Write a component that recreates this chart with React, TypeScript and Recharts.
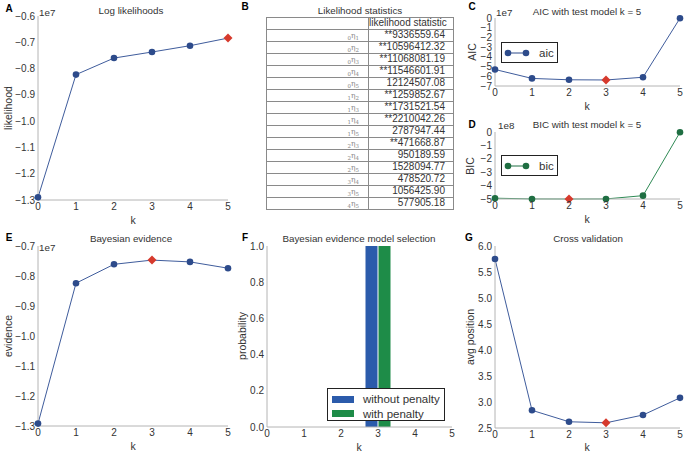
import React from 'react';
import { LineChart, Line, XAxis, YAxis, Legend, ComposedChart, Bar } from 'recharts';

// values (A, C, E in units of 1e7, D in units of 1e8)
const kValues = [0, 1, 2, 3, 4, 5];
const logLikelihood = [-1.29, -0.823, -0.76, -0.737, -0.713, -0.684];
const aicValues = [-5.3, -6.22, -6.36, -6.38, -6.1, -0.02];
const bicValues = [-4.94, -4.995, -5.0, -4.995, -4.75, -0.02];
const evidenceValues = [-1.292, -0.824, -0.761, -0.747, -0.753, -0.774];
const withoutPenalty = [0, 0, 0, 1, 0, 0];
const withPenalty = [0, 0, 0, 1, 0, 0];
const crossValidation = [5.75, 2.84, 2.62, 2.6, 2.75, 3.08];

const bestLikelihood = 5;
const bestAic = 3;
const bestBic = 2;
const bestEvidence = 3;
const bestCv = 3;

const likelihoodTicks = [-1.3, -1.2, -1.1, -1.0, -0.9, -0.8, -0.7, -0.6];
const aicTicks = [-7, -6, -5, -4, -3, -2, -1, 0];
const bicTicks = [-5, -4, -3, -2, -1, 0];
const evidenceTicks = [-1.3, -1.2, -1.1, -1.0, -0.9, -0.8, -0.7];
const probTicks = [0, 0.2, 0.4, 0.6, 0.8, 1.0];
const cvTicks = [2.5, 3.0, 3.5, 4.0, 4.5, 5.0, 5.5, 6.0];

const statFrom = ['0', '0', '0', '0', '0', '1', '1', '1', '1', '2', '2', '2', '3', '3', '4'];
const statTo = ['1', '2', '3', '4', '5', '2', '3', '4', '5', '3', '4', '5', '4', '5', '5'];
const statValues = [
  '**9336559.64', '**10596412.32', '**11068081.19', '**11546601.91', '12124507.08',
  '**1259852.67', '**1731521.54', '**2210042.26', '2787947.44', '**471668.87',
  '950189.59', '1528094.77', '478520.72', '1056425.90', '577905.18',
];

const FONT = '"Liberation Sans", Arial, sans-serif';
const TEXT = '#333';
const SPINE = '#b4b4b4';
const BLUE_LINE = '#3f5c9c';
const BLUE_DOT = '#2d4b8b';
const GREEN_LINE = '#2f8a55';
const GREEN_DOT = '#1f6e42';
const RED = '#d63a2d';

const YAW = 38;
const MT = 8;
const MR = 8;
const XAH = 26;

const fmt1 = (v: number) => v.toFixed(1).replace('-', '\u2212');
const fmt0 = (v: number) => String(Math.round(v)).replace('-', '\u2212');

const makeDot = (best: number, color: string) => (props: any) => {
  const { cx, cy, index } = props;
  if (cx == null || cy == null) return <g key={`d-${index}`} />;
  if (index === best) {
    const s = 4.5;
    return (
      <polygon
        key={`d-${index}`}
        points={`${cx},${cy - s} ${cx + s},${cy} ${cx},${cy + s} ${cx - s},${cy}`}
        fill={RED}
      />
    );
  }
  return <circle key={`d-${index}`} cx={cx} cy={cy} r={3.3} fill={color} />;
};

const Txt = ({ x, y, children, size = 9.8, bold = false, rotate = false, anchor = 'center' }: any) => (
  <div
    style={{
      position: 'absolute',
      left: x,
      top: y,
      transform: `translate(${anchor === 'left' ? '0' : '-50%'}, -50%)${rotate ? ' rotate(-90deg)' : ''}`,
      fontSize: size,
      fontWeight: bold ? 'bold' : 'normal',
      color: bold ? '#000' : TEXT,
      whiteSpace: 'nowrap',
      fontFamily: FONT,
      lineHeight: 1,
    }}
  >
    {children}
  </div>
);

const LineLegend = ({ color, name }: any) => (
  <div
    style={{
      width: 55,
      height: 19,
      border: '1px solid #222',
      background: '#fff',
      display: 'flex',
      alignItems: 'center',
      fontFamily: FONT,
      fontSize: 11.5,
      color: TEXT,
    }}
  >
    <svg width={32} height={19}>
      <line x1={6} x2={24} y1={10} y2={10} stroke={color} strokeWidth={1} />
      <circle cx={6} cy={10} r={3.3} fill={color} />
      <circle cx={24} cy={10} r={3.3} fill={color} />
    </svg>
    <span style={{ marginLeft: 5 }}>{name}</span>
  </div>
);

const BarLegend = () => (
  <div
    style={{
      width: 118,
      height: 33,
      border: '1px solid #222',
      background: '#fff',
      fontFamily: FONT,
      fontSize: 11.5,
      color: TEXT,
      boxSizing: 'border-box',
      paddingTop: 3,
    }}
  >
    {[
      { c: '#2b5bab', t: 'without penalty' },
      { c: '#1e8c48', t: 'with penalty' },
    ].map(r => (
      <div key={r.t} style={{ display: 'flex', alignItems: 'center', height: 14.5 }}>
        <span style={{ display: 'inline-block', width: 22, height: 7, background: r.c, marginLeft: 4 }} />
        <span style={{ marginLeft: 9 }}>{r.t}</span>
      </div>
    ))}
  </div>
);

interface PanelProps {
  x0: number;
  x1: number;
  y0: number;
  y1: number;
  values: number[];
  ticks: number[];
  best: number;
  fmt: (v: number) => string;
  lineColor: string;
  dotColor: string;
  legend?: { name: string; left: number; top: number };
}

const tickStyle = { fill: TEXT, fontSize: 10, fontFamily: FONT };

const LinePanel: React.FC<PanelProps> = ({ x0, x1, y0, y1, values, ticks, best, fmt, lineColor, dotColor, legend }) => {
  const data = kValues.map((k, i) => ({ k, v: values[i] }));
  const left = x0 - YAW;
  const top = y0 - MT;
  return (
    <div style={{ position: 'absolute', left, top }}>
      <LineChart
        width={x1 - x0 + YAW + MR}
        height={y1 - y0 + MT + XAH}
        data={data}
        margin={{ top: MT, right: MR, left: 0, bottom: 0 }}
      >
        <XAxis
          type="number"
          dataKey="k"
          domain={[0, 5]}
          ticks={kValues}
          tickLine={false}
          tickSize={0}
          tickMargin={3}
          height={XAH}
          axisLine={{ stroke: SPINE }}
          tick={tickStyle}
        />
        <YAxis
          type="number"
          domain={[ticks[0], ticks[ticks.length - 1]]}
          ticks={ticks}
          interval={0}
          width={YAW}
          tickLine={false}
          tickSize={0}
          tickMargin={3}
          axisLine={{ stroke: SPINE }}
          tickFormatter={fmt}
          tick={tickStyle}
        />
        {legend && (
          <Legend
            layout="vertical"
            align="center"
            verticalAlign="middle"
            wrapperStyle={{ left: legend.left - left, top: legend.top - top, width: 'auto', height: 'auto' }}
            content={() => <LineLegend color={dotColor} name={legend.name} />}
          />
        )}
        <Line
          type="linear"
          dataKey="v"
          stroke={lineColor}
          strokeWidth={1}
          dot={makeDot(best, dotColor)}
          activeDot={false}
          isAnimationActive={false}
          legendType="none"
        />
      </LineChart>
    </div>
  );
};

const BarPanel = () => {
  const x0 = 267, x1 = 452, y0 = 246, y1 = 427;
  const data = kValues.map((k, i) => ({ k, a: withoutPenalty[i], b: withPenalty[i] }));
  const left = x0 - YAW;
  const top = y0 - MT;
  return (
    <div style={{ position: 'absolute', left, top }}>
      <ComposedChart
        width={x1 - x0 + YAW + MR}
        height={y1 - y0 + MT + XAH}
        data={data}
        margin={{ top: MT, right: MR, left: 0, bottom: 0 }}
        barGap={1}
      >
        <XAxis
          type="number"
          dataKey="k"
          domain={[0, 5]}
          ticks={kValues}
          tickLine={false}
          tickSize={0}
          tickMargin={3}
          height={XAH}
          axisLine={{ stroke: SPINE }}
          tick={tickStyle}
        />
        <YAxis
          type="number"
          domain={[0, 1]}
          ticks={probTicks}
          interval={0}
          width={YAW}
          tickLine={false}
          tickSize={0}
          tickMargin={3}
          axisLine={{ stroke: SPINE }}
          tickFormatter={fmt1}
          tick={tickStyle}
        />
        <Legend
          layout="vertical"
          align="center"
          verticalAlign="middle"
          wrapperStyle={{ left: 327 - left, top: 388 - top, width: 'auto', height: 'auto' }}
          content={() => <BarLegend />}
        />
        <Bar dataKey="a" fill="#2b5bab" barSize={12} isAnimationActive={false} />
        <Bar dataKey="b" fill="#1e8c48" barSize={12} isAnimationActive={false} />
      </ComposedChart>
    </div>
  );
};

const StatsTable = () => {
  const cell: React.CSSProperties = {
    border: '1px solid #8a8a8a',
    height: 10.5,
    padding: '0 8px 0 0',
    textAlign: 'right',
    lineHeight: '10px',
    whiteSpace: 'nowrap',
    overflow: 'hidden',
  };
  const sub: React.CSSProperties = { fontSize: 5.5, position: 'relative', top: 2 };
  return (
    <table
      style={{
        position: 'absolute',
        left: 266,
        top: 17,
        width: 188,
        borderCollapse: 'collapse',
        tableLayout: 'fixed',
        fontFamily: FONT,
        fontSize: 10,
        color: TEXT,
      }}
    >
      <tbody>
        <tr style={{ height: 11.5 }}>
          <td style={{ ...cell, width: 93 }} />
          <td style={cell}>likelihood statistic</td>
        </tr>
        {statValues.map((v, i) => (
          <tr key={i} style={{ height: 11.5 }}>
            <td style={{ ...cell, padding: '0 9px 0 0' }}>
              <span style={{ fontFamily: '"DejaVu Serif", serif', fontSize: 7.5, color: '#888', lineHeight: '10px' }}>
                <span style={sub}>{statFrom[i]}</span>
                {'\u03b7'}
                <span style={sub}>{statTo[i]}</span>
              </span>
            </td>
            <td style={cell}>{v}</td>
          </tr>
        ))}
      </tbody>
    </table>
  );
};

const App = () => {
  return (
    <div
      style={{
        position: 'absolute',
        left: 0,
        top: 0,
        width: 687,
        height: 456,
        background: '#fff',
        overflow: 'hidden',
        fontFamily: FONT,
      }}
    >
      {/* A */}
      <LinePanel x0={38} x1={228} y0={16} y1={200} values={logLikelihood} ticks={likelihoodTicks} best={bestLikelihood} fmt={fmt1} lineColor={BLUE_LINE} dotColor={BLUE_DOT} />
      <Txt x={9} y={9} size={10} bold>A</Txt>
      <Txt x={131} y={11}>Log likelihoods</Txt>
      <Txt x={39} y={13} anchor="left">1e7</Txt>
      <Txt x={8} y={108} size={10.5} rotate>likelihood</Txt>
      <Txt x={133} y={220} size={10.5}>k</Txt>

      {/* B */}
      <StatsTable />
      <Txt x={245} y={7} size={10} bold>B</Txt>
      <Txt x={360} y={11}>Likelihood statistics</Txt>

      {/* C */}
      <LinePanel x0={495} x1={680} y0={18} y1={86} values={aicValues} ticks={aicTicks} best={bestAic} fmt={fmt0} lineColor={BLUE_LINE} dotColor={BLUE_DOT} legend={{ name: 'aic', left: 501, top: 42 }} />
      <Txt x={472} y={7} size={10} bold>C</Txt>
      <Txt x={587} y={12}>AIC with test model k = 5</Txt>
      <Txt x={496} y={13} anchor="left">1e7</Txt>
      <Txt x={472} y={52} size={10.5} rotate>AIC</Txt>
      <Txt x={587} y={106} size={10.5}>k</Txt>

      {/* D */}
      <LinePanel x0={495} x1={680} y0={132} y1={199} values={bicValues} ticks={bicTicks} best={bestBic} fmt={fmt0} lineColor={GREEN_LINE} dotColor={GREEN_DOT} legend={{ name: 'bic', left: 501, top: 155 }} />
      <Txt x={472} y={125} size={10} bold>D</Txt>
      <Txt x={587} y={125}>BIC with test model k = 5</Txt>
      <Txt x={498} y={126} anchor="left">1e8</Txt>
      <Txt x={470} y={166} size={10.5} rotate>BIC</Txt>
      <Txt x={587} y={219} size={10.5}>k</Txt>

      {/* E */}
      <LinePanel x0={38} x1={228} y0={246} y1={426} values={evidenceValues} ticks={evidenceTicks} best={bestEvidence} fmt={fmt1} lineColor={BLUE_LINE} dotColor={BLUE_DOT} />
      <Txt x={9} y={238} size={10} bold>E</Txt>
      <Txt x={131} y={239}>Bayesian evidence</Txt>
      <Txt x={39} y={248} anchor="left">1e7</Txt>
      <Txt x={8} y={336} size={10.5} rotate>evidence</Txt>
      <Txt x={133} y={446} size={10.5}>k</Txt>

      {/* F */}
      <BarPanel />
      <Txt x={245} y={238} size={10} bold>F</Txt>
      <Txt x={359} y={239}>Bayesian evidence model selection</Txt>
      <Txt x={242} y={336} size={10.5} rotate>probability</Txt>
      <Txt x={359} y={447} size={10.5}>k</Txt>

      {/* G */}
      <LinePanel x0={495} x1={680} y0={246} y1={428} values={crossValidation} ticks={cvTicks} best={bestCv} fmt={fmt1} lineColor={BLUE_LINE} dotColor={BLUE_DOT} />
      <Txt x={469} y={238} size={10} bold>G</Txt>
      <Txt x={588} y={239}>Cross validation</Txt>
      <Txt x={470} y={337} size={10.5} rotate>avg position</Txt>
      <Txt x={587} y={447} size={10.5}>k</Txt>
    </div>
  );
};

export default App;
